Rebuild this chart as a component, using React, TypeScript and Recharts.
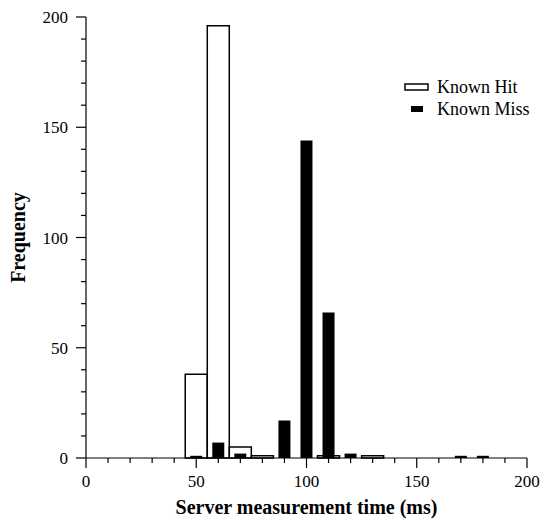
import React from "react"
import { ComposedChart, Bar, XAxis, YAxis, Legend } from "recharts"

// histogram bins (ms) and counts per bin
const bins = [0, 10, 20, 30, 40, 50, 60, 70, 80, 90, 100, 110, 120, 130, 140, 150, 160, 170, 180, 190, 200]
const knownHit = [0, 0, 0, 0, 0, 38, 196, 5, 1, 0, 0, 1, 0, 1, 0, 0, 0, 0, 0, 0, 0]
const knownMiss = [0, 0, 0, 0, 0, 1, 7, 2, 0, 17, 144, 66, 2, 0, 0, 0, 0, 1, 1, 0, 0]

const xTicks = [0, 10, 20, 30, 40, 50, 60, 70, 80, 90, 100, 110, 120, 130, 140, 150, 160, 170, 180, 190, 200]
const yTicks = [0, 10, 20, 30, 40, 50, 60, 70, 80, 90, 100, 110, 120, 130, 140, 150, 160, 170, 180, 190, 200]

const data = bins.map((b, i) => ({
  bin: b,
  hit: knownHit[i] || null,
  miss: knownMiss[i] || null,
}))

const FONT = "'Liberation Serif', 'Times New Roman', serif"

function XTick(props: any) {
  const { x, y, payload } = props
  const major = payload.value % 50 === 0
  return (
    <g>
      <line x1={x} x2={x} y1={y} y2={y + (major ? 10 : 5)} stroke="#000" strokeWidth={1.2} />
      {major && (
        <text x={x} y={y + 29} textAnchor="middle" fontFamily={FONT} fontSize={17} fill="#000">
          {payload.value}
        </text>
      )}
    </g>
  )
}

function YTick(props: any) {
  const { x, y, payload } = props
  const major = payload.value % 50 === 0
  return (
    <g>
      <line x1={x - (major ? 10 : 5)} x2={x} y1={y} y2={y} stroke="#000" strokeWidth={1.2} />
      {major && (
        <text x={x - 18} y={y + 6} textAnchor="end" fontFamily={FONT} fontSize={17} fill="#000">
          {payload.value}
        </text>
      )}
    </g>
  )
}

function LegendBox(props: any) {
  const items = props.payload || []
  return (
    <svg width={140} height={44} style={{ display: "block" }}>
      {items.map((it: any, i: number) => {
        const isHit = it.dataKey === "hit"
        const cy = 9 + i * 22
        return (
          <g key={it.value}>
            {isHit ? (
              <rect x={5} y={cy - 3} width={23} height={6} fill="#fff" stroke="#000" strokeWidth={1.5} />
            ) : (
              <rect x={11} y={cy - 3} width={12} height={6} fill="#000" />
            )}
            <text x={37} y={cy + 6} fontFamily={FONT} fontSize={18} fill="#000">
              {it.value}
            </text>
          </g>
        )
      })}
    </svg>
  )
}

export default function App() {
  return (
    <div style={{ position: "absolute", left: 0, top: 0, background: "#fff" }}>
      <ComposedChart width={542} height={521} data={data} margin={{ top: 17, right: 15, left: 0, bottom: 0 }}>
        <XAxis
          xAxisId="hit"
          dataKey="bin"
          type="number"
          domain={[0, 200]}
          ticks={xTicks}
          interval={0}
          tick={<XTick />}
          tickLine={false}
          tickSize={0}
          tickMargin={0}
          height={63}
          axisLine={{ stroke: "#000", strokeWidth: 1.2 }}
          label={{
            content: () => (
              <text x={306.5} y={514} textAnchor="middle" fontFamily={FONT} fontSize={20} fontWeight="bold" fill="#000">
                Server measurement time (ms)
              </text>
            ),
          }}
        />
        <XAxis xAxisId="miss" dataKey="bin" type="number" domain={[0, 200]} hide />
        <YAxis
          type="number"
          domain={[0, 200]}
          ticks={yTicks}
          interval={0}
          width={86}
          tick={<YTick />}
          tickLine={false}
          tickSize={0}
          tickMargin={0}
          axisLine={{ stroke: "#000", strokeWidth: 1.2 }}
          label={{
            content: () => (
              <text
                x={25}
                y={237.5}
                transform="rotate(-90 25 237.5)"
                textAnchor="middle"
                fontFamily={FONT}
                fontSize={20}
                fontWeight="bold"
                fill="#000"
              >
                Frequency
              </text>
            ),
          }}
        />
        <Legend
          layout="vertical"
          verticalAlign="middle"
          align="center"
          content={<LegendBox />}
          wrapperStyle={{ position: "absolute", left: 400, top: 78, width: 140 }}
        />
        <Bar
          xAxisId="hit"
          dataKey="hit"
          name="Known Hit"
          fill="#fff"
          stroke="#000"
          strokeWidth={1.5}
          barSize={22}
          isAnimationActive={false}
        />
        <Bar xAxisId="miss" dataKey="miss" name="Known Miss" fill="#000" barSize={12} isAnimationActive={false} />
      </ComposedChart>
    </div>
  )
}
